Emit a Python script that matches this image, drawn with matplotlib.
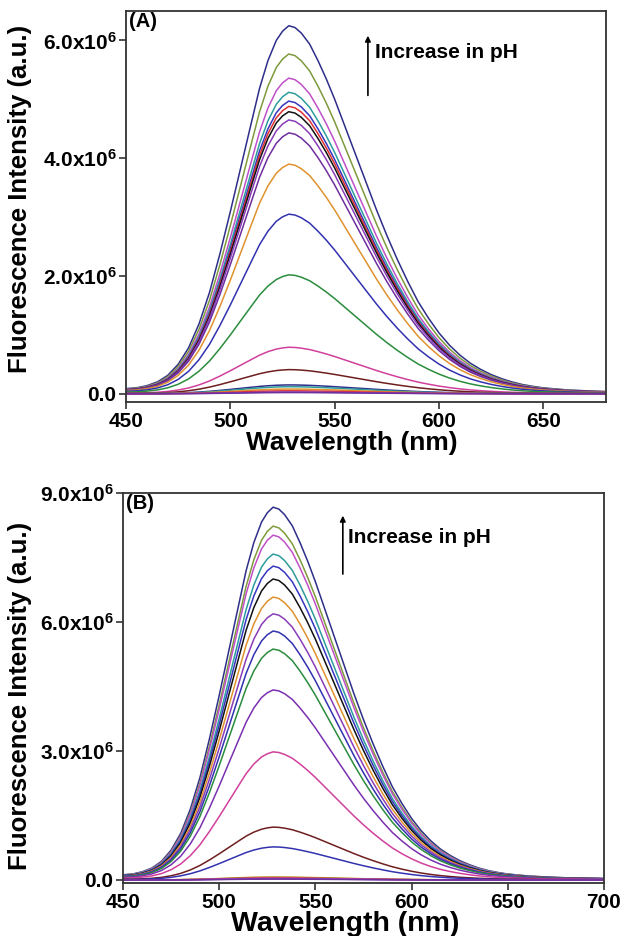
import matplotlib
matplotlib.use('Agg')
import matplotlib.pyplot as plt
from matplotlib.ticker import FuncFormatter

plt.rcParams['font.family'] = 'Liberation Sans'
plt.rcParams['font.weight'] = 'bold'
plt.rcParams['mathtext.fontset'] = 'custom'
plt.rcParams['mathtext.rm'] = 'Liberation Sans:bold'
plt.rcParams['mathtext.it'] = 'Liberation Sans:bold'
plt.rcParams['mathtext.bf'] = 'Liberation Sans:bold'

# emission profile (normalised)
wavelength = [450, 455, 460, 465, 470, 475, 480, 485, 490, 495, 500, 505, 510, 514,
              518, 522, 525, 528, 531, 534, 538, 542, 546, 550, 555, 560, 565, 570,
              575, 580, 585, 590, 595, 600, 605, 610, 615, 620, 625, 630, 635, 640,
              645, 650, 660, 670, 680, 690, 700]
profile = [0.014, 0.016, 0.022, 0.032, 0.05, 0.08, 0.125, 0.19, 0.275, 0.38, 0.495,
           0.615, 0.735, 0.83, 0.905, 0.96, 0.985, 1.0, 0.995, 0.98, 0.95, 0.905,
           0.855, 0.80, 0.725, 0.65, 0.575, 0.5, 0.43, 0.365, 0.305, 0.25, 0.205,
           0.165, 0.132, 0.105, 0.083, 0.066, 0.052, 0.041, 0.032, 0.025, 0.02,
           0.016, 0.011, 0.008, 0.006, 0.005, 0.004]

# peak intensities, panel A (highest pH first)
peaks_a = [6.25e6, 5.77e6, 5.36e6, 5.12e6, 4.97e6, 4.88e6, 4.79e6, 4.65e6, 4.43e6,
           3.90e6, 3.05e6, 2.02e6, 0.79e6, 0.41e6, 0.15e6, 0.12e6, 0.08e6, 0.05e6,
           0.03e6, 0.02e6]
colors_a = ['#2e2e8a', '#7f9a3c', '#c050c8', '#2e9c9c', '#3636c0', '#e03030',
            '#111111', '#8a3cb8', '#6e2e9e', '#e0922e', '#3232b0', '#2a8c3c',
            '#d0409c', '#6e1e1e', '#2e2e8a', '#2e9c9c', '#e0922e', '#e03030',
            '#8a3cb8', '#6e2e9e']

# peak intensities, panel B
peaks_b = [8.67e6, 8.23e6, 8.02e6, 7.58e6, 7.30e6, 7.00e6, 6.58e6, 6.19e6, 5.79e6,
           5.37e6, 4.42e6, 2.98e6, 1.23e6, 0.77e6, 0.07e6, 0.06e6, 0.05e6, 0.04e6,
           0.03e6, 0.02e6]
colors_b = ['#2e2e8a', '#7f9a3c', '#c050c8', '#2e9c9c', '#3636c0', '#111111',
            '#e0922e', '#8a3cb8', '#3232b0', '#2a8c3c', '#7a30b0', '#d0409c',
            '#6e1e1e', '#3232b0', '#e0922e', '#7f9a3c', '#e03030', '#c050c8',
            '#8a3cb8', '#6e2e9e']

fig = plt.figure(figsize=(6.22, 9.36), dpi=100)
W, H = 622, 936
ax1 = fig.add_axes([126 / W, 1 - 402 / H, 480 / W, 391 / H])
ax2 = fig.add_axes([123 / W, 1 - 883 / H, 481 / W, 390 / H])


def sci(v, pos):
    if abs(v) < 1:
        return '0.0'
    e = 6
    return '%.1fx10$^{%d}$' % (v / 10 ** e, e)


def draw(ax, peaks, colors, xmax, ylim, yticks, xticks, tag, arrow_x, arrow_y,
         text_xy, xl_size):
    for p, c in zip(peaks, colors):
        ys = [p * v for v in profile]
        ax.plot(wavelength, ys, color=c, lw=1.1)
    ax.set_xlim(450, xmax)
    ax.set_ylim(*ylim)
    ax.set_xticks(xticks)
    ax.set_yticks(yticks)
    ax.yaxis.set_major_formatter(FuncFormatter(sci))
    ax.tick_params(direction='out', length=5, width=1.2, labelsize=15,
                   color='#333333', pad=2)
    for s in ax.spines.values():
        s.set_linewidth(1.3)
        s.set_color('#333333')
    ax.set_xlabel('Wavelength (nm)', fontsize=xl_size, fontweight='bold')
    ax.set_ylabel('Fluorescence Intensity (a.u.)', fontsize=18.5, fontweight='bold')
    ax.text(0.006, 0.997, tag, transform=ax.transAxes, fontsize=14.5,
            fontweight='bold', va='top', ha='left')
    ax.annotate('', xy=(arrow_x, arrow_y[1]), xytext=(arrow_x, arrow_y[0]),
                xycoords='axes fraction',
                arrowprops=dict(arrowstyle='-|>', color='black', lw=1.2,
                                mutation_scale=8))
    ax.text(text_xy[0], text_xy[1], 'Increase in pH', transform=ax.transAxes,
            fontsize=15, fontweight='bold', va='center', ha='left')


draw(ax1, peaks_a, colors_a, 680, (-1.4e5, 6.5e6), [0, 2e6, 4e6, 6e6],
     [450, 500, 550, 600, 650], '(A)', 0.504, (0.777, 0.944), (0.519, 0.893), 19)
draw(ax2, peaks_b, colors_b, 700, (-0.07e6, 9.0e6), [0, 3e6, 6e6, 9e6],
     [450, 500, 550, 600, 650, 700], '(B)', 0.457, (0.785, 0.949), (0.468, 0.887), 20.5)

ax1.yaxis.set_label_coords(-0.195, 0.52)
ax2.yaxis.set_label_coords(-0.19, 0.48)
ax1.xaxis.set_label_coords(0.47, -0.075)
ax2.xaxis.set_label_coords(0.462, -0.072)

fig.savefig('out.png', dpi=100)
